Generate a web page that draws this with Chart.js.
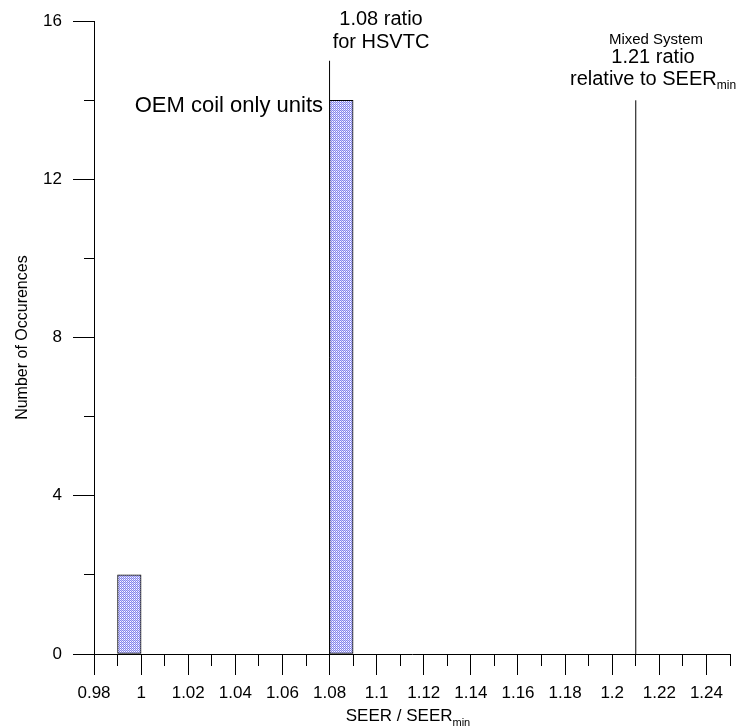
<!DOCTYPE html>
<html>
<head>
<meta charset="utf-8">
<title>SEER / SEERmin occurences</title>
<script src="https://cdn.jsdelivr.net/npm/chart.js@4.4.0/dist/chart.umd.min.js"></script>
<style>
  html, body { margin: 0; padding: 0; background: #fff; }
  #chart-box { width: 742px; height: 728px; }
</style>
</head>
<body>
<div id="chart-box"><canvas id="seer-graph"></canvas></div>
<script>
// histogram bins (center of each 0.01 wide bin) and their counts
const binCenters = [0.995, 1.085];
const binCounts = [2, 14];

// reference ratio marker lines
const ratioMarks = [1.08, 1.21];
const ratioMarkHeights = [15, 14];

const xTicks = [
  0.98, 0.99, 1, 1.01, 1.02, 1.03, 1.04, 1.05, 1.06, 1.07, 1.08, 1.09, 1.1, 1.11,
  1.12, 1.13, 1.14, 1.15, 1.16, 1.17, 1.18, 1.19, 1.2, 1.21, 1.22, 1.23, 1.24, 1.25,
];
const xTickLabels = [0.98, 1, 1.02, 1.04, 1.06, 1.08, 1.1, 1.12, 1.14, 1.16, 1.18, 1.2, 1.22, 1.24];
const yTicks = [0, 2, 4, 6, 8, 10, 12, 14, 16];
const yTickLabels = [0, 4, 8, 12, 16];

const seerGraph = document.querySelector("#seer-graph");
const FONT = "'Liberation Sans', Arial, sans-serif";

// small blue dot pattern like the original hatch fill
const barFill = (() => {
  const c = document.createElement("canvas");
  c.width = 4;
  c.height = 4;
  const g = c.getContext("2d");
  for (let x = 0; x < 4; x++) {
    for (let y = 0; y < 4; y++) {
      if ((x + y) % 2 === 0) g.fillStyle = "#8585ee";
      else if (x % 2 === 0) g.fillStyle = "#ffffff";
      else g.fillStyle = "#c9c9f7";
      g.fillRect(x, y, 1, 1);
    }
  }
  return seerGraph.getContext("2d").createPattern(c, "repeat");
})();

const markDatasets = ratioMarks.map((x, i) => ({
  type: "line",
  data: [{ x: x, y: 0 }, { x: x, y: ratioMarkHeights[i] }],
  borderColor: "#000",
  borderWidth: 1,
  pointRadius: 0,
  fill: false,
}));

// parts: [text, size, baseline shift]
const drawText = (ctx, parts, x, y, align) => {
  let total = 0;
  parts.forEach(p => {
    ctx.font = p[1] + "px " + FONT;
    total += ctx.measureText(p[0]).width;
  });
  let cx = x;
  if (align === "center") cx = x - total / 2;
  if (align === "right") cx = x - total;
  parts.forEach(p => {
    ctx.font = p[1] + "px " + FONT;
    ctx.fillText(p[0], cx, y + (p[2] || 0));
    cx += ctx.measureText(p[0]).width;
  });
};

const labelsPlugin = {
  id: "labels",
  afterDraw(chart) {
    const ctx = chart.ctx;
    const area = chart.chartArea;
    ctx.save();
    ctx.fillStyle = "#000";
    ctx.textAlign = "left";
    ctx.textBaseline = "alphabetic";
    drawText(ctx, [["1.08 ratio", 20]], 381, 25, "center");
    drawText(ctx, [["for HSVTC", 20]], 381, 48, "center");
    drawText(ctx, [["OEM coil only units", 22]], 323, 112, "right");
    drawText(ctx, [["Mixed System", 15]], 656, 44, "center");
    drawText(ctx, [["1.21 ratio", 20]], 653, 63, "center");
    drawText(ctx, [["relative to SEER", 20], ["min", 12, 4]], 570, 85, "left");
    drawText(ctx, [["SEER / SEER", 17], ["min", 11, 5]], (area.left + area.right) / 2 - 4, 721, "center");
    ctx.restore();
  },
};

Chart.defaults.font.family = FONT;
Chart.defaults.color = "#000";

new Chart(seerGraph, {
  type: "bar",
  data: {
    datasets: [
      {
        type: "bar",
        data: binCenters.map((x, i) => ({ x: x, y: binCounts[i] })),
        backgroundColor: barFill,
        borderColor: "#000",
        borderWidth: 1,
        borderSkipped: false,
        categoryPercentage: 1,
        barPercentage: 1,
      },
      ...markDatasets,
    ],
  },
  options: {
    responsive: true,
    maintainAspectRatio: false,
    animation: false,
    layout: { padding: { top: 18, right: 12, left: 0, bottom: 0 } },
    plugins: {
      legend: { display: false },
      tooltip: { enabled: false },
    },
    scales: {
      x: {
        type: "linear",
        min: 0.98,
        max: 1.25,
        offset: false,
        afterBuildTicks: scale => {
          scale.ticks = xTicks.map(v => ({ value: v }));
        },
        afterFit: scale => {
          scale.height = 74;
        },
        ticks: {
          autoSkip: false,
          maxRotation: 0,
          padding: 8,
          font: { size: 17 },
          callback: value => (xTickLabels.includes(value) ? String(value) : ""),
        },
        grid: {
          offset: false,
          drawOnChartArea: false,
          tickLength: 21,
          tickColor: "#000",
          tickWidth: 1,
          tickBorderDash: ctx => (xTickLabels.includes(ctx.tick.value) ? [] : [11, 100]),
        },
        border: { display: true, color: "#000", width: 1 },
      },
      y: {
        min: 0,
        max: 16,
        afterBuildTicks: scale => {
          scale.ticks = yTicks.map(v => ({ value: v }));
        },
        afterFit: scale => {
          scale.width = 94;
        },
        ticks: {
          padding: 11,
          font: { size: 17 },
          callback: value => (yTickLabels.includes(value) ? String(value) : ""),
        },
        grid: {
          drawOnChartArea: false,
          tickLength: 21,
          tickColor: "#000",
          tickWidth: 1,
          // minor ticks: only the half next to the axis
          tickBorderDash: ctx => (yTickLabels.includes(ctx.tick.value) ? [] : [0, 11, 10, 100]),
        },
        border: { display: true, color: "#000", width: 1 },
        title: {
          display: true,
          text: "Number of Occurences",
          font: { size: 16 },
          padding: { top: 13, bottom: 0 },
        },
      },
    },
  },
  plugins: [labelsPlugin],
});
</script>
</body>
</html>
